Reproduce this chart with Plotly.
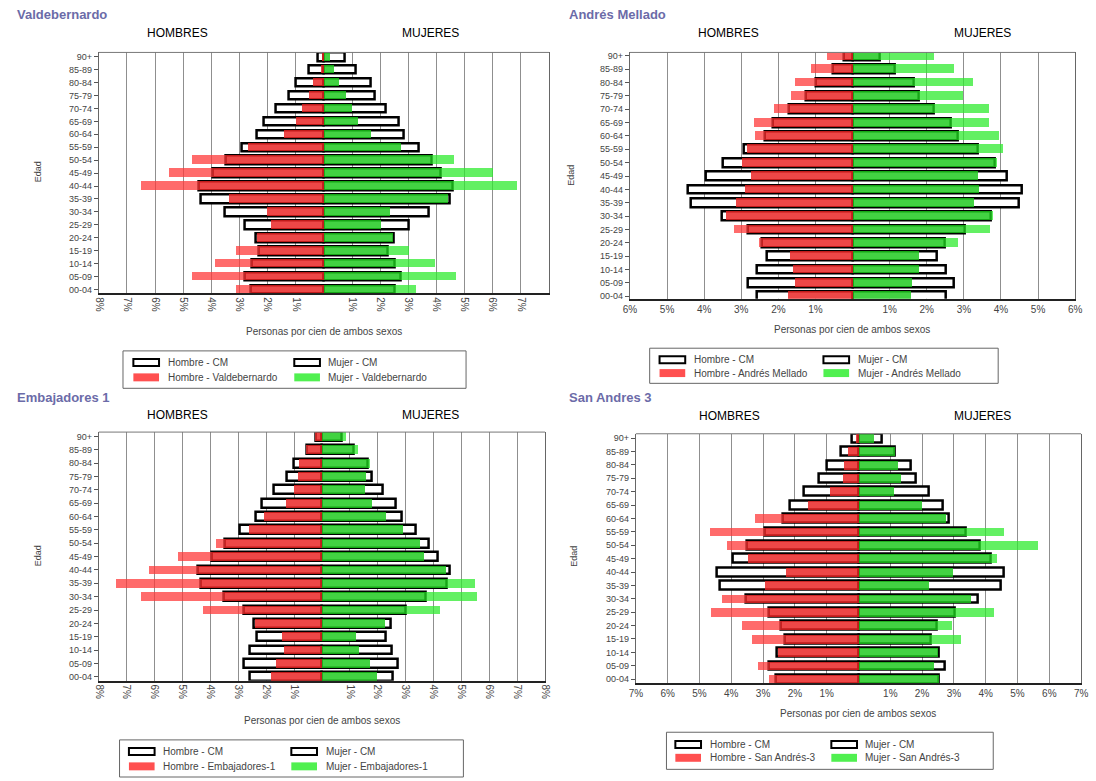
import numpy as np
import plotly.graph_objects as go

# Age groups, bottom to top
AGE_GROUPS = ["00-04", "05-09", "10-14", "15-19", "20-24", "25-29", "30-34",
              "35-39", "40-44", "45-49", "50-54", "55-59", "60-64", "65-69",
              "70-74", "75-79", "80-84", "85-89", "90+"]

# Comunidad de Madrid (% of both sexes)
CM_HOMBRES = [2.59, 2.81, 2.58, 2.32, 2.43, 2.81, 3.53, 4.36, 4.44, 3.96,
              3.50, 2.93, 2.37, 2.15, 1.72, 1.26, 1.00, 0.54, 0.22]
CM_MUJERES = [2.53, 2.72, 2.52, 2.28, 2.48, 3.02, 3.74, 4.49, 4.57, 4.17,
              3.83, 3.37, 2.85, 2.65, 2.20, 1.80, 1.65, 1.15, 0.73]

VALDEBERNARDO_H = [3.12, 4.71, 3.86, 3.12, 2.40, 1.90, 2.04, 3.37, 6.49, 5.51,
                   4.71, 2.69, 1.41, 1.00, 0.80, 0.55, 0.40, 0.12, 0.09]
VALDEBERNARDO_M = [3.27, 4.68, 3.95, 3.02, 2.45, 2.02, 2.33, 4.41, 6.86, 6.00,
                   4.63, 2.75, 1.65, 1.22, 0.98, 0.77, 0.53, 0.34, 0.21]

ANDRES_MELLADO_H = [1.74, 1.55, 1.60, 1.69, 2.51, 3.19, 3.40, 3.13, 2.91, 2.73,
                    2.97, 2.85, 2.64, 2.65, 2.13, 1.67, 1.54, 1.12, 0.68]
ANDRES_MELLADO_M = [1.57, 1.61, 1.79, 1.78, 2.84, 3.70, 3.77, 3.26, 3.40, 3.38,
                    3.88, 4.04, 3.95, 3.67, 3.67, 2.98, 3.24, 2.72, 2.19]

EMBAJADORES_H = [1.85, 1.66, 1.37, 1.45, 2.42, 4.27, 6.48, 7.39, 6.20, 5.18,
                 3.81, 2.63, 2.07, 1.29, 1.02, 0.86, 0.83, 0.58, 0.26]
EMBAJADORES_M = [1.96, 1.71, 1.34, 1.22, 2.27, 4.24, 5.57, 5.48, 4.45, 3.64,
                 3.52, 2.89, 2.30, 1.78, 1.53, 1.59, 1.72, 1.28, 0.84]

SAN_ANDRES_H = [2.83, 3.17, 2.54, 3.35, 3.68, 4.63, 4.29, 2.95, 2.29, 3.49,
                4.14, 4.68, 3.26, 1.59, 0.90, 0.49, 0.45, 0.32, 0.08]
SAN_ANDRES_M = [2.52, 2.38, 2.49, 3.21, 2.95, 4.27, 3.54, 2.22, 2.97, 4.35,
                5.65, 4.57, 2.76, 2.00, 1.10, 1.33, 1.24, 1.14, 0.49]

# Percent tick marks for each pyramid (men to the left, women to the right)
TICKS_VALDEBERNARDO = [-8, -7, -6, -5, -4, -3, -2, -1, 1, 2, 3, 4, 5, 6, 7]
TICKS_ANDRES = [-6, -5, -4, -3, -2, -1, 1, 2, 3, 4, 5, 6]
TICKS_EMBAJADORES = [-8, -7, -6, -5, -4, -3, -2, -1, 1, 2, 3, 4, 5, 6, 7, 8]
TICKS_SAN_ANDRES = [-7, -6, -5, -4, -3, -2, -1, 1, 2, 3, 4, 5, 6, 7]

W, H = 1096, 781
FONT = "Liberation Sans, Arial, sans-serif"
TITLE_COLOR = "#6b6ba8"
TEXT_COLOR = "#444444"


def fx(px):
    return px / W


def fy(py):
    return 1 - py / H


panels = [
    dict(title="Valdebernardo", area="Valdebernardo", hom=VALDEBERNARDO_H, muj=VALDEBERNARDO_M,
         ticks=TICKS_VALDEBERNARDO, xmax=8, angle=90,
         plot=(93, 549, 51.7, 294), yr=(-0.31, 18.33),
         title_xy=(8, 14), heads=(172.6, 428.6, 31.7), edad=(31.6, 172), xtitle=(321, 332.7),
         box=(117.5, 465, 351.7, 389.3), rows=(363.3, 378.3), sw=(128, 291), tx=(161, 323)),
    dict(title="Andrés Mellado", area="Andrés Mellado", hom=ANDRES_MELLADO_H, muj=ANDRES_MELLADO_M,
         ticks=TICKS_ANDRES, xmax=6, angle=0,
         plot=(631, 1082, 51.7, 299.3), yr=(-0.19, 18.25),
         title_xy=(567, 14), heads=(731, 988, 32), edad=(571, 175), xtitle=(856, 330),
         box=(651, 1004, 349, 384.3), rows=(360.7, 374), sw=(661, 827), tx=(694, 860)),
    dict(title="Embajadores 1", area="Embajadores-1", hom=EMBAJADORES_H, muj=EMBAJADORES_M,
         ticks=TICKS_EMBAJADORES, xmax=8, angle=90,
         plot=(93, 545, 433.3, 683.3), yr=(-0.30, 18.33),
         title_xy=(8, 399), heads=(172.6, 428.6, 416), edad=(31.6, 558), xtitle=(319, 723.3),
         box=(114, 462.3, 742.7, 780), rows=(754.3, 769.3), sw=(123.5, 288), tx=(156, 321)),
    dict(title="San Andres 3", area="San Andrés-3", hom=SAN_ANDRES_H, muj=SAN_ANDRES_M,
         ticks=TICKS_SAN_ANDRES, xmax=7, angle=0,
         plot=(637, 1088, 435, 685.7), yr=(-0.30, 18.32),
         title_xy=(567, 399), heads=(731.8, 988, 416.7), edad=(574, 558), xtitle=(862, 716),
         box=(668, 999, 735, 772.3), rows=(747.3, 760.7), sw=(677, 835), tx=(710, 867)),
]

fig = go.Figure()
annotations = []
shapes = []
BAR_W = 0.66

for i, p in enumerate(panels):
    n = "" if i == 0 else str(i + 1)
    xa, ya = "x" + n, "y" + n
    cm_h = np.array(CM_HOMBRES)
    cm_m = np.array(CM_MUJERES)
    d_h = np.array(p["hom"])
    d_m = np.array(p["muj"])

    common = dict(y=AGE_GROUPS, orientation="h", width=BAR_W, xaxis=xa, yaxis=ya,
                  showlegend=False, hoverinfo="skip")
    # Comunidad de Madrid outlines
    for vals in (-cm_h, cm_m):
        fig.add_trace(go.Bar(x=vals, marker=dict(color="white", line=dict(color="black", width=2.5)),
                             **common))
    # district bars (translucent)
    fig.add_trace(go.Bar(x=-d_h, marker=dict(color="rgba(255,55,55,0.74)", line=dict(width=0)), **common))
    fig.add_trace(go.Bar(x=d_m, marker=dict(color="rgba(45,235,45,0.74)", line=dict(width=0)), **common))
    # shared part of both pyramids, slightly darker
    fig.add_trace(go.Bar(x=-np.minimum(d_h, cm_h),
                         marker=dict(color="rgba(200,0,0,0.33)", line=dict(width=0)), **common))
    fig.add_trace(go.Bar(x=np.minimum(d_m, cm_m),
                         marker=dict(color="rgba(0,150,0,0.33)", line=dict(width=0)), **common))

    x0, x1, y0, y1 = p["plot"]
    tickvals = p["ticks"]
    ticktext = [f"{abs(t)}%" for t in tickvals]
    fig.layout["xaxis" + n] = dict(
        domain=[fx(x0), fx(x1)], anchor=ya, range=[-p["xmax"], p["xmax"]],
        tickmode="array", tickvals=tickvals, ticktext=ticktext, tickangle=p["angle"],
        showgrid=True, gridcolor="#8f8f8f", gridwidth=1, zeroline=False,
        showline=True, linecolor="#222222", linewidth=1.5, ticks="",
        tickfont=dict(family=FONT, size=10, color=TEXT_COLOR), fixedrange=True)
    fig.layout["yaxis" + n] = dict(
        domain=[fy(y1), fy(y0)], anchor=xa, type="category",
        categoryorder="array", categoryarray=AGE_GROUPS, range=list(p["yr"]),
        showgrid=False, zeroline=False, showline=True, linecolor="#666666", linewidth=1,
        mirror=True, ticks="outside", ticklen=4, tickcolor="#555555",
        tickfont=dict(family=FONT, size=9, color=TEXT_COLOR), fixedrange=True)
    # top border of the plotting area
    shapes.append(dict(type="line", xref="paper", yref="paper", x0=fx(x0), x1=fx(x1),
                       y0=fy(y0), y1=fy(y0), line=dict(color="#777777", width=1)))

    # texts
    tx, ty = p["title_xy"]
    annotations.append(dict(text=f"<b>{p['title']}</b>", x=fx(tx), y=fy(ty), xanchor="left",
                            yanchor="middle", font=dict(family=FONT, size=13, color=TITLE_COLOR)))
    hx1, hx2, hy = p["heads"]
    for hx, label in ((hx1, "HOMBRES"), (hx2, "MUJERES")):
        annotations.append(dict(text=label, x=fx(hx), y=fy(hy), xanchor="center", yanchor="middle",
                                font=dict(family=FONT, size=12, color="black")))
    ex, ey = p["edad"]
    annotations.append(dict(text="Edad", x=fx(ex), y=fy(ey), textangle=-90, xanchor="center",
                            yanchor="middle", font=dict(family=FONT, size=9, color=TEXT_COLOR)))
    tx_, ty_ = p["xtitle"]
    annotations.append(dict(text="Personas por cien de ambos sexos", x=fx(tx_), y=fy(ty_),
                            xanchor="center", yanchor="middle",
                            font=dict(family=FONT, size=10, color=TEXT_COLOR)))

    # legend box
    bx0, bx1, by0, by1 = p["box"]
    shapes.append(dict(type="rect", xref="paper", yref="paper", x0=fx(bx0), x1=fx(bx1),
                       y0=fy(by1), y1=fy(by0), line=dict(color="#666666", width=1),
                       fillcolor="white"))
    r1, r2 = p["rows"]
    s1, s2 = p["sw"]
    t1, t2 = p["tx"]
    entries = [
        (s1, t1, r1, "Hombre - CM", None),
        (s2, t2, r1, "Mujer - CM", None),
        (s1, t1, r2, f"Hombre - {p['area']}", "rgba(255,80,80,1)"),
        (s2, t2, r2, f"Mujer - {p['area']}", "rgba(80,240,80,1)"),
    ]
    for sx, tx2, ry, label, col in entries:
        if col is None:
            shapes.append(dict(type="rect", xref="paper", yref="paper", x0=fx(sx), x1=fx(sx + 26),
                               y0=fy(ry + 3.5), y1=fy(ry - 3.5),
                               line=dict(color="black", width=2), fillcolor="white"))
        else:
            shapes.append(dict(type="rect", xref="paper", yref="paper", x0=fx(sx), x1=fx(sx + 26),
                               y0=fy(ry + 4), y1=fy(ry - 4),
                               line=dict(width=0), fillcolor=col))
        annotations.append(dict(text=label, x=fx(tx2), y=fy(ry), xanchor="left", yanchor="middle",
                                font=dict(family=FONT, size=10, color=TEXT_COLOR)))

for a in annotations:
    a.update(xref="paper", yref="paper", showarrow=False)

fig.update_layout(
    width=W, height=H, autosize=False,
    margin=dict(l=0, r=0, t=0, b=0),
    paper_bgcolor="white", plot_bgcolor="white",
    barmode="overlay", bargap=0,
    annotations=annotations, shapes=shapes,
    font=dict(family=FONT),
)

fig.write_html("out.html", config={"displayModeBar": False})
